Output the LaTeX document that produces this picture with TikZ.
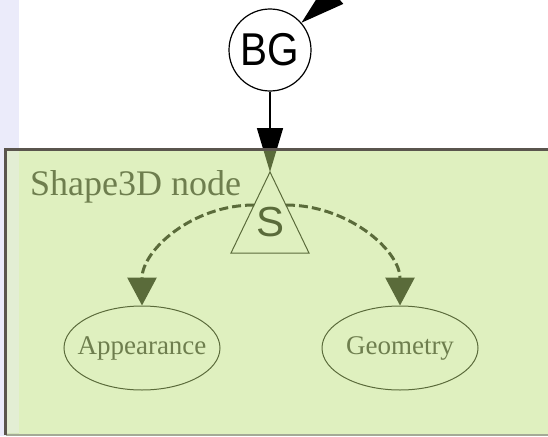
\documentclass[tikz,border=0pt]{standalone}
\usepackage{fontspec}
\setmainfont{Liberation Serif}
\setsansfont{Liberation Sans}
\usepackage{xcolor}
\usetikzlibrary{arrows.meta,positioning,shapes.geometric}
\definecolor{vrmlgreen}{HTML}{BEE07B}
\definecolor{vrmllavender}{HTML}{EBEBFA}
\definecolor{vrmlframe}{HTML}{5A554D}
\definecolor{vrmlbottom}{HTML}{A4AA96}
\tikzstyle{groupnode} = [circle, draw, line width=1.2pt, minimum size=82pt, inner sep=0pt,
    font=\sffamily\fontsize{46}{46}\selectfont]
\tikzstyle{shapetext} = [inner sep=0pt, font=\sffamily\fontsize{42}{42}\selectfont]
\tikzstyle{fieldnode} = [ellipse, draw, line width=1pt, minimum width=156pt, minimum height=84pt,
    inner xsep=-12pt, inner ysep=0pt, text=black!85, font=\fontsize{27}{27}\selectfont]
\tikzstyle{route} = [-{Triangle[length=44pt,width=26pt]}, line width=1.5pt]
\tikzstyle{childroute} = [-{Triangle[length=28pt,width=29pt]}, line width=3pt,
    dash pattern=on 9pt off 4pt]

\begin{document}
\begin{tikzpicture}[x=1pt,y=-1pt]
\useasboundingbox (0,0) rectangle (548,436);
\clip (0,0) rectangle (548,436);
\fill[white] (0,0) rectangle (548,436);
\fill[vrmllavender] (0,0) rectangle (19,436);
% scene graph
\coordinate (parent) at (413,-74);
\node[groupnode] (bg) at (270,50) {\scalebox{0.88}[1]{BG}};
\coordinate (sapex) at (270,172);
\coordinate (sleft) at (254,205);
\coordinate (sright) at (286,205);
\draw[line width=1pt] (sapex) -- (231,253) -- (309,253) -- cycle;
\node[shapetext] (s) at (271,222) {S};
\node[fieldnode] (app) at (142,348) {Appearance};
\node[fieldnode, right=101pt of app] (geo) {Geometry};
\node[anchor=base west, inner sep=0pt, text=black!85, font=\fontsize{36}{36}\selectfont] (title) at (30,195) {Shape3D node};
\draw[route] (parent) -- (bg);
\draw[route] (bg) -- (sapex);
\draw[childroute] (sleft) .. controls +(-62,0) and +(0,-55) .. (app.north);
\draw[childroute] (sright) .. controls +(62,0) and +(0,-55) .. (geo.north);
% translucent node box
\fill[vrmlgreen, fill opacity=0.48] (4,149) rectangle (560,434);
\fill[white, fill opacity=0.35] (7,151) rectangle (19,433);
\draw[vrmlbottom, line width=2pt] (5.5,435) -- (560,435);
\draw[vrmlframe, line width=3pt] (560,149.5) -- (5.5,149.5) -- (5.5,435);
\end{tikzpicture}
\end{document}
